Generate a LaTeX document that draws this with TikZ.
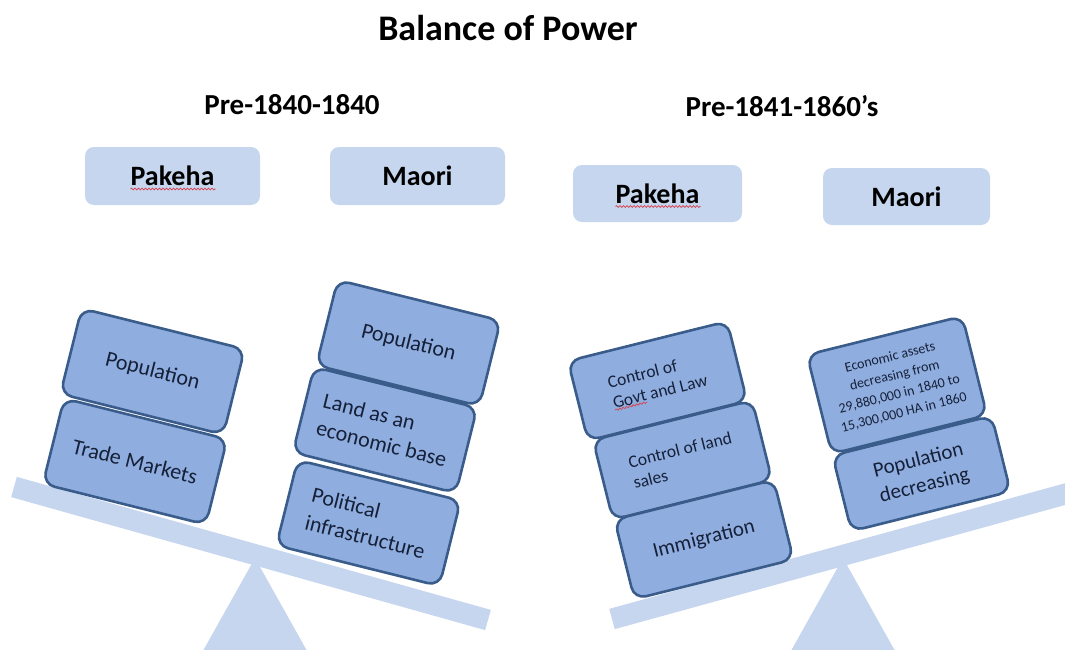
\documentclass[tikz,border=0pt]{standalone}
\usepackage{fontspec}
\setmainfont{Carlito}
\usetikzlibrary{decorations.pathmorphing}

\definecolor{panel}{RGB}{198,214,238}
\definecolor{beam}{RGB}{199,214,239}
\definecolor{weightfill}{RGB}{143,174,223}
\definecolor{weightline}{RGB}{57,92,138}
\definecolor{weighttext}{RGB}{22,32,56}
\definecolor{squig}{RGB}{214,64,76}
% wavy spelling mark under a word of a node: node, from, to, depth, angle
\newcommand\spellmark[5]{\draw[wavy,shift={(#1.center)},rotate=#5] (#2,#4) -- (#3,#4);}

\begin{document}
\begin{tikzpicture}[x=1pt,y=-1pt,
	panel/.style={fill=panel,rounded corners=9pt,minimum width=175pt,minimum height=58pt,font=\fontsize{28}{32}\selectfont\bfseries},
	weight/.style={draw=weightline,line width=2.6pt,fill=weightfill,rounded corners=12pt,text=weighttext,align=center,inner sep=4pt},
	heavy/.style={weight,rotate=-14,minimum width=168pt,minimum height=88pt,font=\fontsize{22}{28}\selectfont},
	light/.style={weight,rotate=14,minimum width=164pt,minimum height=82pt,font=\fontsize{17.5}{21}\selectfont},
	bar/.style={line width=21pt,draw=beam},
	wavy/.style={draw=squig,line width=0.7pt,decorate,decoration={snake,segment length=3.5pt,amplitude=0.9pt}}]
	\useasboundingbox (0,0) rectangle (1065,650);
	\clip (0,0) rectangle (1065,650);
	\path
	(14,487) coordinate (beamAl)
	(488,620) coordinate (beamAr)
	(255,558) coordinate (pivotA)
	(612,619) coordinate (beamBl)
	(1080,490) coordinate (beamBr)
	(843,558) coordinate (pivotB)
	;
	% headings
	\node[font=\fontsize{36}{40}\selectfont\bfseries] (title) at (508,28) {Balance of Power};
	\node[font=\fontsize{29}{32}\selectfont\bfseries] (eraA) at (292,105) {Pre-1840-1840};
	\node[font=\fontsize{29}{32}\selectfont\bfseries] (eraB) at (782,106) {Pre-1841-1860’s};
	\node[panel] (pakehaA) at (172.5,176) {Pakeha};
	\node[panel] (maoriA) at (417.5,176) {Maori};
	\node[panel,minimum width=169pt,minimum height=57pt] (pakehaB) at (657.5,193.5) {Pakeha};
	\node[panel,minimum width=167pt,minimum height=57pt] (maoriB) at (906.5,196.5) {Maori};
	% the two scales
	\foreach \s in {A,B} {
		\draw[bar] (beam\s l) -- (beam\s r);
		\fill[beam] (pivot\s) -- ++(-56,100) -- ++(112,0) -- cycle;
	}
	\node[heavy] (popA) at (152.5,371.5) {Population};
	\node[heavy] (tradeA) at (135,461.5) {Trade Markets};
	\node[heavy] (popM) at (408.5,343) {Population};
	\node[heavy,align=left] (landM) at (385,430) {Land as an\\economic base};
	\node[heavy,align=left] (polM) at (368.5,523) {Political\\infrastructure};
	\node[light,align=left] (govB) at (657.5,381) {Control of\\Govt and Law};
	\node[light,align=left] (landB) at (682.5,460) {Control of land\\sales};
	\node[light,font=\fontsize{21}{24}\selectfont] (immB) at (704,539.5) {Immigration};
	\node[light,minimum width=160pt,minimum height=102pt,font=\fontsize{14}{19}\selectfont] (assetB) at (897,385) {Economic assets\\decreasing from\\29,880,000 in 1840 to\\15,300,000 HA in 1860};
	\node[light,minimum height=78pt,font=\fontsize{21}{26}\selectfont] (popB) at (921.5,473.5) {Population\\decreasing};
	% spelling marks
	\spellmark{pakehaA}{-42}{43}{13}{0}
	\spellmark{pakehaB}{-42}{43}{13}{0}
	\spellmark{govB}{-48}{-15}{18}{14}
\end{tikzpicture}
\end{document}
